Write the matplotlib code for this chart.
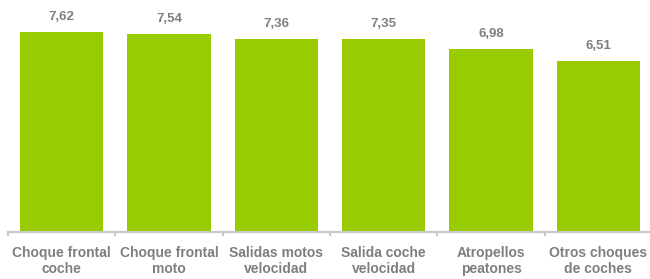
import matplotlib
matplotlib.use("Agg")
import matplotlib.pyplot as plt
import numpy as np

# Datos del gráfico
categorias = ["Choque frontal\ncoche", "Choque frontal\nmoto", "Salidas motos\nvelocidad",
              "Salida coche\nvelocidad", "Atropellos\npeatones", "Otros choques\nde coches"]
valores = [7.62, 7.54, 7.36, 7.35, 6.98, 6.51]

verde = "#99cc00"
gris = "#7f7f7f"

plt.rcParams["font.family"] = ["Liberation Sans", "DejaVu Sans"]

fig = plt.figure(figsize=(6.5, 2.79), dpi=100)
ax = fig.add_axes([8 / 650, 47 / 279, 644 / 650, 232 / 279])

x = np.arange(len(valores))
ax.bar(x, valores, width=0.775, color=verde)

# Etiquetas de valor encima de cada barra
for xi, v in zip(x, valores):
    ax.annotate(f"{v:.2f}".replace(".", ","), (xi, v), xytext=(0, 6.5), textcoords="offset points",
                ha="center", va="bottom", color=gris, fontsize=9.5, fontweight="bold")

ax.set_xlim(-0.5, len(valores) - 0.5)
ax.set_ylim(0, 232 / 26.25)

for s in ["top", "right", "left"]:
    ax.spines[s].set_visible(False)
ax.spines["bottom"].set_color("#c8c8c8")
ax.spines["bottom"].set_linewidth(1.5)

ax.set_yticks([])
ax.set_xticks(np.arange(len(valores) + 1) - 0.5)
ax.set_xticklabels([])
ax.set_xticks(x, minor=True)
ax.set_xticklabels(categorias, minor=True, color=gris, fontsize=10, fontweight="bold",
                   linespacing=1.2)
ax.tick_params(axis="x", which="major", length=3, width=1.5, color="#c8c8c8")
ax.tick_params(axis="x", which="minor", length=0, pad=10)

fig.savefig("out.png", dpi=100)
